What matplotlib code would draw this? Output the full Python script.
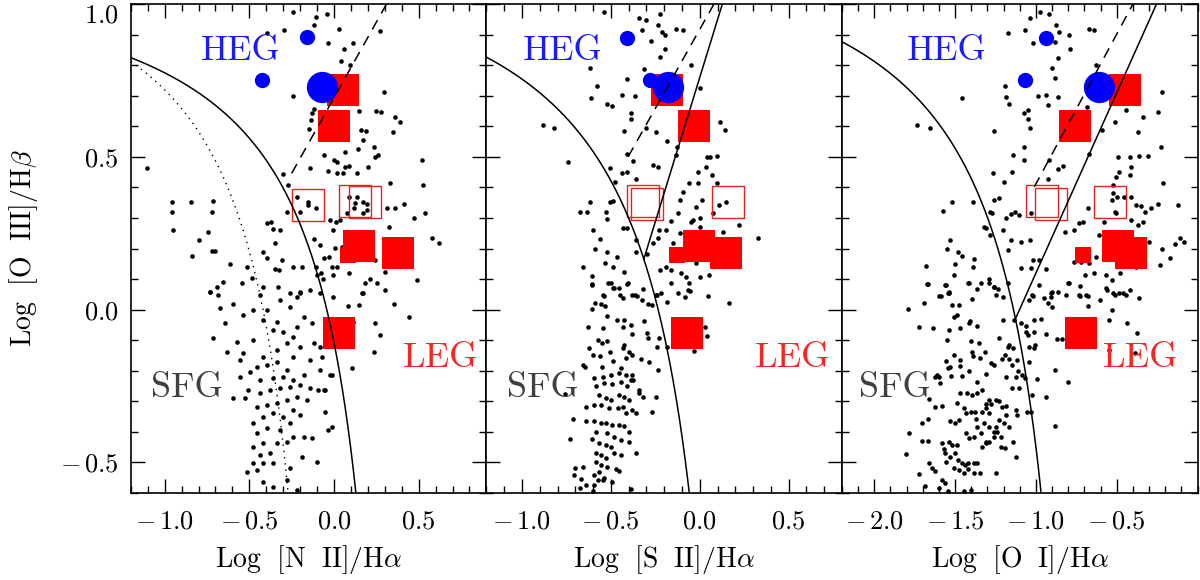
import numpy as np
import matplotlib
matplotlib.use("Agg")
import matplotlib.pyplot as plt
from matplotlib.ticker import MultipleLocator, FuncFormatter

plt.rcParams['font.family'] = 'serif'
plt.rcParams['font.serif'] = ['cmr10', 'DejaVu Serif']
plt.rcParams['mathtext.fontset'] = 'cm'
plt.rcParams['axes.formatter.use_mathtext'] = True

# SDSS comparison galaxies
sdss_nii = [
    (-0.245, 0.975), (-0.106, 0.959), (-0.042, 0.967), (0.273, 0.913), (0.111, 0.871),
    (-0.121, 0.931), (0.031, 0.92), (-0.397, 0.904), (-0.295, 0.915), (-0.033, 0.873),
    (0.062, 0.852), (0.04, 0.815), (0.092, 0.80), (-0.24, 0.70), (0.293, 0.713),
    (-0.121, 0.655), (-0.131, 0.642), (-0.137, 0.62), (-0.145, 0.59), (0.145, 0.651),
    (0.247, 0.65), (0.279, 0.648), (0.362, 0.629), (0.391, 0.615), (0.348, 0.582),
    (0.159, 0.588), (0.188, 0.586), (0.174, 0.555), (0.141, 0.525), (0.238, 0.533),
    (0.244, 0.50), (0.259, 0.506), (0.20, 0.468), (0.066, 0.517), (0.0, 0.49),
    (0.017, 0.484), (-0.062, 0.506), (0.066, 0.468), (0.09, 0.47), (0.056, 0.446),
    (0.135, 0.446), (0.017, 0.446), (-0.033, 0.455), (-0.141, 0.462), (-0.299, 0.444),
    (-1.107, 0.462), (0.52, 0.49), (0.525, 0.408), (0.328, 0.413), (0.415, 0.346),
    (0.539, 0.317), (0.47, 0.299), (0.579, 0.233), (0.618, 0.217), (0.49, 0.097),
    (0.303, 0.064), (0.165, 0.053), (0.214, 0.099),
    (-0.954, 0.353), (-0.845, 0.353), (-0.713, 0.357), (-0.955, 0.32), (-0.723, 0.32),
    (-0.95, 0.26), (-0.796, 0.228), (-0.743, 0.255), (-0.721, 0.193), (-0.703, 0.193),
    (-0.841, 0.176), (-0.614, 0.148), (-0.516, 0.141), (-0.397, 0.282), (-0.374, 0.288),
    (-0.358, 0.263), (-0.318, 0.261), (-0.279, 0.318), (-0.348, 0.217), (-0.417, 0.19),
    (-0.397, 0.168), (-0.309, 0.163), (-0.322, 0.13), (-0.348, 0.132), (-0.24, 0.141),
    (-0.19, 0.141), (-0.106, 0.141), (-0.058, 0.168), (-0.027, 0.171), (-0.013, 0.141),
    (0.017, 0.141), (-0.003, 0.261), (0.003, 0.201), (0.046, 0.206), (-0.121, 0.232),
    (-0.082, 0.212), (-0.023, 0.293), (0.013, 0.288), (0.037, 0.293), (0.076, 0.315),
    (0.121, 0.332), (0.174, 0.315), (0.194, 0.326), (-0.102, 0.113), (-0.078, 0.119),
    (-0.066, 0.099), (-0.003, 0.113), (0.086, 0.119), (0.184, 0.086), (0.253, 0.086),
    (0.303, 0.124), (-0.693, 0.075), (-0.654, 0.092), (-0.545, 0.086), (-0.486, 0.103),
    (-0.417, 0.075), (-0.328, 0.075), (-0.259, 0.053), (-0.2, 0.059), (-0.141, 0.064),
    (-0.082, 0.053), (-0.003, 0.043), (-0.733, 0.059), (-0.683, 0.048), (-0.437, 0.048),
    (-0.22, 0.043), (0.362, 0.332), (0.312, 0.332), (0.322, 0.272), (0.352, 0.228),
    (0.244, 0.163), (0.086, 0.37), (0.135, 0.37), (0.174, 0.353), (0.194, 0.346),
    (0.125, 0.348), (-0.151, 0.353), (-0.151, 0.342), (-0.22, 0.37), (-0.269, 0.408),
    (-0.2, 0.32), (-0.106, 0.332),
    (-0.733, 0.059), (-0.674, 0.004), (-0.595, 0.02), (-0.713, -0.094), (-0.644, -0.045),
    (-0.634, -0.138), (-0.575, -0.105), (-0.536, -0.018), (-0.477, -0.001), (-0.417, -0.034),
    (-0.477, -0.1), (-0.536, -0.143), (-0.556, -0.165), (-0.496, -0.203), (-0.556, -0.222),
    (-0.506, -0.263), (-0.526, -0.29), (-0.595, -0.29), (-0.457, -0.187), (-0.397, -0.181),
    (-0.338, -0.17), (-0.279, -0.198), (-0.24, -0.154), (-0.20, -0.121), (-0.24, -0.089),
    (-0.299, -0.072), (-0.358, -0.067), (-0.397, -0.001), (-0.318, 0.031), (-0.259, 0.010),
    (-0.2, 0.053), (-0.18, -0.023), (-0.131, -0.045), (-0.121, -0.11), (-0.082, -0.121),
    (-0.072, -0.154), (-0.141, -0.165), (-0.082, -0.198), (-0.023, -0.214), (-0.092, -0.263),
    (-0.052, -0.263), (-0.052, -0.334), (-0.013, -0.383), (-0.102, -0.497), (-0.131, -0.421),
    (-0.19, -0.481), (-0.259, -0.519), (-0.22, -0.59), (-0.279, -0.557), (-0.358, -0.579),
    (-0.417, -0.563), (-0.457, -0.525), (-0.516, -0.53), (-0.477, -0.503), (-0.417, -0.503),
    (-0.358, -0.503), (-0.378, -0.47), (-0.437, -0.476), (-0.477, -0.448), (-0.417, -0.437),
    (-0.338, -0.437), (-0.279, -0.432), (-0.24, -0.416), (-0.18, -0.416), (-0.457, -0.405),
    (-0.397, -0.388), (-0.318, -0.394), (-0.259, -0.372), (-0.477, -0.372), (-0.417, -0.35),
    (-0.358, -0.339), (-0.299, -0.35), (-0.24, -0.328), (-0.2, -0.345), (-0.457, -0.318),
    (-0.397, -0.312), (-0.338, -0.307), (-0.279, -0.296), (-0.22, -0.285), (-0.161, -0.296),
    (-0.437, -0.274), (-0.378, -0.263), (-0.318, -0.258), (-0.259, -0.252), (-0.2, -0.247),
    (-0.141, -0.258), (-0.437, -0.23), (-0.358, -0.225), (-0.299, -0.219), (-0.24, -0.23),
    (-0.18, -0.214), (-0.417, -0.154), (-0.338, -0.132), (-0.279, -0.11), (-0.22, -0.056),
    (-0.338, -0.04), (0.352, 0.02), (0.441, -0.023), (0.244, -0.045), (0.273, -0.083),
    (0.234, -0.138), (0.115, -0.04), (0.082, 0.012), (0.145, 0.015), (0.106, -0.192),
    (0.174, 0.053), (-0.033, -0.394), (-0.062, -0.263), (-0.013, -0.214),
]

sdss_sii = [
    (-0.539, 0.975), (-0.341, 0.956), (-0.30, 0.948), (-0.225, 0.967), (-0.234, 0.931),
    (-0.21, 0.909), (-0.194, 0.899), (-0.136, 0.918), (-0.095, 0.915), (-0.324, 0.915),
    (-0.272, 0.88), (-0.197, 0.852), (-0.225, 0.826), (-0.313, 0.786), (-0.617, 0.79),
    (-0.58, 0.732), (-0.614, 0.691), (-0.408, 0.754), (-0.44, 0.702), (-0.366, 0.699),
    (-0.524, 0.673), (-0.496, 0.666), (-0.384, 0.642), (-0.388, 0.623), (-0.427, 0.586),
    (-0.30, 0.593), (-0.248, 0.582), (-0.183, 0.553), (-0.129, 0.533), (-0.131, 0.506),
    (-0.048, 0.80), (-0.001, 0.726), (0.114, 0.615), (0.144, 0.588), (-0.879, 0.604),
    (-0.819, 0.593), (-0.739, 0.484), (-0.412, 0.508), (-0.378, 0.487), (-0.408, 0.451),
    (-0.44, 0.448), (-0.505, 0.462), (-0.356, 0.426), (-0.263, 0.473), (-0.235, 0.468),
    (-0.474, 0.419), (-0.505, 0.353), (-0.487, 0.356), (-0.617, 0.353), (-0.673, 0.318),
    (-0.636, 0.32), (-0.528, 0.32), (-0.52, 0.296), (-0.599, 0.261), (-0.561, 0.23),
    (-0.589, 0.197), (-0.522, 0.19), (-0.468, 0.173), (-0.487, 0.14), (-0.534, 0.152),
    (-0.659, 0.14), (-0.604, 0.11), (-0.604, 0.081), (-0.515, 0.088), (-0.487, 0.07),
    (-0.449, 0.048), (-0.539, 0.045), (-0.412, 0.083), (-0.427, 0.124), (-0.356, 0.228),
    (-0.431, 0.266), (-0.412, 0.266), (-0.356, 0.19), (-0.296, 0.182), (-0.263, 0.217),
    (-0.231, 0.261), (-0.188, 0.261), (-0.237, 0.233), (-0.151, 0.219), (-0.113, 0.25),
    (-0.048, 0.288), (-0.122, 0.315), (-0.113, 0.359), (-0.095, 0.384), (-0.058, 0.413),
    (-0.011, 0.451), (0.04, 0.501), (0.058, 0.501), (0.096, 0.503), (0.036, 0.468),
    (0.07, 0.44), (-0.011, 0.413), (0.013, 0.359), (-0.02, 0.337), (-0.039, 0.293),
    (-0.001, 0.299), (-0.001, 0.272), (0.073, 0.315), (0.096, 0.413), (0.148, 0.353),
    (0.111, 0.342), (0.129, 0.255), (0.223, 0.277), (0.325, 0.233), (-0.16, 0.291),
    (-0.192, 0.14), (-0.225, 0.13), (-0.16, 0.13), (-0.104, 0.119), (-0.076, 0.108),
    (-0.02, 0.152), (0.002, 0.108), (0.051, 0.113), (-0.065, 0.064), (-0.123, 0.053),
    (-0.216, 0.053), (-0.244, 0.048), (-0.366, 0.048), (-0.319, 0.067),
    (-0.606, 0.084), (-0.50, 0.086), (-0.481, 0.07), (-0.453, 0.07), (-0.401, 0.086),
    (-0.379, 0.048), (-0.351, 0.045), (-0.434, 0.037), (-0.323, 0.032), (-0.547, 0.048),
    (-0.588, 0.021), (-0.556, 0.018), (-0.532, 0.012), (-0.606, 0.001), (-0.289, 0.018),
    (-0.266, 0.015), (-0.238, 0.048), (-0.182, 0.026), (-0.084, 0.042), (-0.057, 0.062),
    (0.047, 0.045), (0.163, 0.023), (-0.164, 0.086), (-0.061, 0.086), (-0.519, -0.021),
    (-0.466, -0.034), (-0.425, -0.034), (-0.388, -0.05), (-0.431, -0.056), (-0.547, -0.061),
    (-0.631, -0.056), (-0.313, -0.036), (-0.294, -0.077), (-0.289, -0.094), (-0.238, -0.121),
    (-0.229, -0.094), (-0.182, -0.121), (-0.03, -0.135), (0.029, -0.058), (0.042, -0.085),
    (-0.379, -0.081), (-0.575, -0.099), (-0.621, -0.127), (-0.55, -0.11), (-0.522, -0.101),
    (-0.505, -0.137), (-0.425, -0.116), (-0.431, -0.127), (-0.397, -0.137), (-0.416, -0.159),
    (-0.379, -0.148), (-0.332, -0.163), (-0.285, -0.17), (-0.487, -0.168), (-0.56, -0.152),
    (-0.603, -0.148), (-0.659, -0.181), (-0.644, -0.189), (-0.55, -0.189), (-0.5, -0.214),
    (-0.453, -0.208), (-0.444, -0.192), (-0.416, -0.214), (-0.388, -0.23), (-0.379, -0.214),
    (-0.233, -0.197), (-0.593, -0.225), (-0.547, -0.219), (-0.584, -0.25), (-0.537, -0.241),
    (-0.491, -0.243), (-0.444, -0.236), (-0.407, -0.25), (-0.373, -0.23), (-0.341, -0.263),
    (-0.341, -0.274), (-0.319, -0.285), (-0.248, -0.285), (-0.756, -0.276), (-0.565, -0.279),
    (-0.528, -0.29), (-0.50, -0.296), (-0.453, -0.279), (-0.425, -0.285), (-0.397, -0.296),
    (-0.64, -0.317), (-0.593, -0.312), (-0.556, -0.312), (-0.509, -0.323), (-0.462, -0.323),
    (-0.434, -0.317), (-0.416, -0.339), (-0.379, -0.328), (-0.36, -0.339), (-0.27, -0.334),
    (-0.711, -0.359), (-0.64, -0.363), (-0.593, -0.366), (-0.556, -0.372), (-0.528, -0.372),
    (-0.491, -0.377), (-0.453, -0.377), (-0.425, -0.38), (-0.397, -0.399), (-0.584, -0.399),
    (-0.519, -0.405), (-0.481, -0.416), (-0.444, -0.426), (-0.397, -0.432), (-0.606, -0.424),
    (-0.565, -0.437), (-0.528, -0.443), (-0.50, -0.448), (-0.73, -0.424), (-0.36, -0.47),
    (-0.444, -0.475), (-0.481, -0.47), (-0.584, -0.468), (-0.556, -0.475), (-0.528, -0.486),
    (-0.584, -0.497), (-0.556, -0.508), (-0.519, -0.514), (-0.472, -0.522), (-0.457, -0.527),
    (-0.565, -0.53), (-0.593, -0.541), (-0.537, -0.552), (-0.491, -0.563), (-0.659, -0.514),
    (-0.70, -0.517), (-0.705, -0.541), (-0.668, -0.555), (-0.64, -0.574), (-0.593, -0.574),
    (-0.673, -0.585), (-0.603, -0.592), (-0.388, -0.587), (-0.547, -0.557), (-0.575, -0.557),
]

sdss_oi = [
    (-1.035, 0.956), (-0.975, 0.975), (-0.917, 0.967), (-1.068, 0.915), (-1.175, 0.904),
    (-0.876, 0.931), (-0.859, 0.909), (-1.016, 0.873), (-0.88, 0.877), (-0.793, 0.899),
    (-0.789, 0.852), (-0.673, 0.92), (-0.644, 0.915), (-0.861, 0.824), (-0.628, 0.80),
    (-0.90, 0.79), (-0.88, 0.757), (-1.192, 0.732), (-1.186, 0.697), (-0.989, 0.70),
    (-0.938, 0.704), (-0.865, 0.695), (-1.165, 0.672), (-1.047, 0.653), (-1.076, 0.642),
    (-1.051, 0.623), (-1.035, 0.593), (-0.927, 0.67), (-0.684, 0.662), (-1.458, 0.691),
    (-1.733, 0.604), (-1.655, 0.593), (-1.262, 0.586), (-1.072, 0.533), (-1.144, 0.506),
    (-1.072, 0.49), (-1.15, 0.451), (-1.268, 0.446), (-1.20, 0.419), (-0.927, 0.426),
    (-0.863, 0.459), (-0.83, 0.471), (-0.921, 0.49), (-0.669, 0.508), (-0.59, 0.588),
    (-0.508, 0.615), (-0.442, 0.653), (-0.339, 0.631), (-0.245, 0.648), (-0.369, 0.582),
    (-0.225, 0.533), (-0.219, 0.713), (-0.493, 0.50), (-0.417, 0.50), (-0.364, 0.503),
    (-0.308, 0.503), (-0.411, 0.468), (-0.487, 0.451), (-0.504, 0.435), (-0.417, 0.44),
    (-0.215, 0.415), (-0.524, 0.408), (-0.524, 0.381), (-0.499, 0.37), (-0.456, 0.37),
    (-0.411, 0.37), (-0.38, 0.342), (-0.349, 0.34), (-0.328, 0.321), (-0.287, 0.332),
    (-0.245, 0.346), (-0.122, 0.342), (-0.411, 0.293), (-0.369, 0.277), (-0.339, 0.288),
    (-0.514, 0.321), (-0.504, 0.315), (-0.528, 0.359), (-0.582, 0.288), (-0.611, 0.244),
    (-0.679, 0.332), (-0.71, 0.288), (-0.735, 0.285), (-0.762, 0.261), (-0.82, 0.253),
    (-0.721, 0.157), (-0.766, 0.157), (-0.669, 0.152), (-0.628, 0.173), (-0.694, 0.113),
    (-0.638, 0.119), (-0.566, 0.113), (-0.528, 0.097), (-0.483, 0.119), (-0.38, 0.141),
    (-0.339, 0.195), (-0.298, 0.222), (-0.219, 0.197), (-0.169, 0.17), (-0.142, 0.215),
    (-0.111, 0.233), (-0.086, 0.222), (-0.235, 0.146), (-0.421, 0.064), (-0.462, 0.053),
    (-0.514, 0.048), (-0.566, 0.07), (-0.69, 0.048), (-0.731, 0.048), (-0.803, 0.086),
    (-0.938, 0.132), (-0.983, 0.163), (-1.016, 0.163), (-1.035, 0.228), (-1.093, 0.222),
    (-1.155, 0.228), (-1.206, 0.261), (-1.155, 0.313), (-1.128, 0.32), (-1.103, 0.31),
    (-1.031, 0.315), (-1.186, 0.299), (-1.274, 0.315), (-1.26, 0.359), (-1.23, 0.364),
    (-1.283, 0.32), (-1.388, 0.353), (-1.52, 0.353), (-1.578, 0.324), (-1.31, 0.266),
    (-1.32, 0.272), (-1.283, 0.243), (-1.533, 0.228), (-1.553, 0.197), (-1.485, 0.19),
    (-1.458, 0.176), (-1.382, 0.165), (-1.388, 0.141), (-1.50, 0.149), (-1.681, 0.143),
    (-1.506, 0.112), (-1.557, 0.081), (-1.537, 0.056), (-1.417, 0.088), (-1.34, 0.088),
    (-1.289, 0.099), (-1.262, 0.073), (-1.237, 0.067), (-1.175, 0.086), (-1.206, 0.043),
    (-1.671, 0.083), (-1.588, 0.045), (-1.027, 0.047), (-0.907, 0.043), (-0.863, 0.059),
    (-0.814, 0.048), (-1.093, 0.135), (-1.031, 0.135), (-1.175, 0.195), (-0.979, 0.081),
    (-1.677, 0.084), (-1.56, 0.081), (-1.535, 0.059), (-1.543, 0.056), (-1.597, 0.045),
    (-1.419, 0.088), (-1.363, 0.066), (-1.291, 0.088), (-1.26, 0.075), (-1.25, 0.048),
    (-1.394, 0.034), (-1.518, 0.015), (-1.477, 0.015), (-1.694, 0.021), (-1.791, 0.001),
    (-1.487, -0.018), (-1.508, -0.025), (-1.411, -0.036), (-1.415, -0.045), (-1.363, -0.053),
    (-1.535, -0.067), (-1.471, -0.059), (-1.721, -0.056), (-1.638, -0.059), (-1.549, -0.099),
    (-1.405, -0.101), (-1.353, -0.108), (-1.229, -0.094), (-1.167, -0.116), (-1.171, -0.121),
    (-1.318, -0.137), (-1.398, -0.137), (-1.508, -0.148), (-1.388, -0.152), (-1.349, -0.159),
    (-1.467, -0.165), (-1.555, -0.167), (-1.467, -0.184), (-1.529, -0.189), (-1.543, -0.192),
    (-1.415, -0.20), (-1.615, -0.214), (-1.60, -0.221), (-1.527, -0.217), (-1.46, -0.217),
    (-1.363, -0.236), (-1.308, -0.212), (-1.281, -0.173), (-1.26, -0.181), (-1.208, -0.163),
    (-1.192, -0.148), (-1.167, -0.163), (-1.142, -0.127), (-1.12, -0.165), (-1.146, -0.181),
    (-1.111, -0.20), (-1.084, -0.214), (-1.068, -0.225), (-1.043, -0.17), (-1.126, -0.219),
    (-1.188, -0.221), (-1.146, -0.257), (-1.105, -0.257), (-1.012, -0.072), (-1.064, -0.072),
    (-1.051, -0.083), (-1.006, -0.116), (-1.012, -0.127), (-1.043, -0.121), (-1.064, -0.053),
    (-1.095, -0.043), (-1.136, -0.034), (-1.202, -0.034), (-1.043, 0.032), (-1.018, 0.045),
    (-0.95, 0.037), (-0.909, 0.056), (-0.898, 0.059), (-0.923, 0.023), (-0.903, 0.01),
    (-1.012, -0.034), (-0.971, -0.032), (-0.936, -0.08), (-0.884, -0.197), (-0.94, -0.285),
    (-1.022, -0.279), (-0.991, -0.228), (-0.867, -0.097), (-0.84, -0.097), (-0.795, 0.086),
    (-0.729, 0.077), (-0.681, 0.045), (-0.729, 0.045), (-0.677, 0.012), (-0.605, 0.032),
    (-0.562, 0.064), (-0.522, 0.053), (-0.485, 0.053), (-0.444, 0.048), (-0.361, 0.037),
    (-0.527, -0.001), (-0.551, -0.034), (-0.434, -0.045), (-0.378, -0.075), (-0.39, -0.143),
    (-0.547, -0.132), (-0.799, -0.236), (-0.882, -0.381),
    (-1.626, -0.219), (-1.595, -0.241), (-1.659, -0.293), (-1.626, -0.32), (-1.58, -0.315),
    (-1.667, -0.359), (-1.704, -0.372), (-1.787, -0.405), (-1.708, -0.429), (-1.667, -0.429),
    (-1.801, -0.473), (-1.725, -0.539), (-1.684, -0.577), (-1.659, -0.503), (-1.642, -0.519),
    (-1.626, -0.527), (-1.58, -0.557), (-1.56, -0.566), (-1.58, -0.437), (-1.57, -0.457),
    (-1.564, -0.47), (-1.535, -0.432), (-1.518, -0.443), (-1.487, -0.443), (-1.555, -0.497),
    (-1.529, -0.481), (-1.498, -0.47), (-1.481, -0.492), (-1.457, -0.501), (-1.436, -0.508),
    (-1.508, -0.519), (-1.477, -0.525), (-1.446, -0.533), (-1.419, -0.501), (-1.384, -0.503),
    (-1.363, -0.501), (-1.349, -0.536), (-1.384, -0.536), (-1.419, -0.522), (-1.601, -0.585),
    (-1.543, -0.592), (-1.446, -0.592), (-1.405, -0.59), (-1.25, -0.535), (-1.529, -0.366),
    (-1.502, -0.372), (-1.477, -0.361), (-1.432, -0.337), (-1.405, -0.334), (-1.378, -0.334),
    (-1.374, -0.359), (-1.432, -0.405), (-1.415, -0.421), (-1.384, -0.416), (-1.343, -0.405),
    (-1.312, -0.437), (-1.333, -0.448), (-1.291, -0.432), (-1.308, -0.432), (-1.26, -0.416),
    (-1.219, -0.448), (-1.192, -0.454), (-1.142, -0.432), (-1.122, -0.483), (-1.219, -0.416),
    (-1.363, -0.383), (-1.322, -0.372), (-1.291, -0.383), (-1.26, -0.399), (-1.246, -0.383),
    (-1.239, -0.399), (-1.291, -0.339), (-1.312, -0.323), (-1.336, -0.334), (-1.291, -0.296),
    (-1.281, -0.309), (-1.25, -0.296), (-1.229, -0.298), (-1.208, -0.317), (-1.188, -0.315),
    (-1.184, -0.345), (-1.167, -0.383), (-1.229, -0.361), (-1.198, -0.372), (-1.308, -0.309),
    (-1.487, -0.306), (-1.446, -0.323), (-1.467, -0.274), (-1.425, -0.274), (-1.398, -0.279),
    (-1.363, -0.274), (-1.336, -0.263), (-1.115, -0.345), (-1.053, -0.334), (-1.033, -0.334),
    (-1.126, -0.328),
]

# radio galaxies: LEG (big / small filled squares, open squares) and HEG (circles)
leg_big = {
    'nii': [(0.054, 0.72), (0.001, 0.60), (0.146, 0.208), (0.38, 0.184), (0.03, -0.075)],
    'sii': [(-0.186, 0.72), (-0.03, 0.60), (-0.006, 0.208), (0.146, 0.185), (-0.07, -0.075)],
    'oi': [(-0.45, 0.72), (-0.76, 0.60), (-0.49, 0.208), (-0.41, 0.185), (-0.72, -0.075)],
}
leg_small = {'nii': [(0.084, 0.18)], 'sii': [(-0.13, 0.18)], 'oi': [(-0.71, 0.18)]}
leg_open = {
    'nii': [(-0.153, 0.344), (0.125, 0.357), (0.185, 0.352)],
    'sii': [(-0.32, 0.355), (-0.297, 0.346), (0.16, 0.353)],
    'oi': [(-0.96, 0.355), (-0.91, 0.345), (-0.54, 0.352)],
}
heg_small = {
    'nii': [(-0.159, 0.892), (-0.425, 0.75)],
    'sii': [(-0.41, 0.89), (-0.28, 0.75)],
    'oi': [(-0.94, 0.89), (-1.065, 0.75)],
}
heg_big = {'nii': [(-0.07, 0.73)], 'sii': [(-0.18, 0.73)], 'oi': [(-0.61, 0.73)]}

keys = ['nii', 'sii', 'oi']
xlabels = [r'$\mathrm{Log\ \ [N\ \ II]/H}\alpha$',
           r'$\mathrm{Log\ \ [S\ \ II]/H}\alpha$',
           r'$\mathrm{Log\ \ [O\ \ I]/H}\alpha$']
ylabel = r'$\mathrm{Log\ \ [O\ \ III]/H}\beta$'
xlims = [(-1.2, 0.9), (-1.2, 0.8), (-2.2, 0.0)]
xticks = [[-1.0, -0.5, 0.0, 0.5], [-1.0, -0.5, 0.0, 0.5], [-2.0, -1.5, -1.0, -0.5]]
samples = [sdss_nii, sdss_sii, sdss_oi]

# Kewley et al. 2001 maximum starburst lines: a/(x-b)+c
kewley = [(0.61, 0.47, 1.19), (0.72, 0.32, 1.30), (0.73, -0.59, 1.33)]
# Seyfert/LINER separation (Kewley 2006): slope, intercept, start x
seyliner = [None, (1.89, 0.76, -0.315), (1.18, 1.30, -1.127)]
# dashed dividing lines (endpoints)
dashed = [[(-0.25, 0.446), (0.31, 1.0)], [(-0.403, 0.50), (0.08, 1.0)], [(-1.01, 0.402), (-0.40, 1.0)]]
heg_pos = [(-0.55, 0.846), (-0.77, 0.846), (-1.55, 0.846)]
leg_pos = [(0.63, -0.16), (0.52, -0.16), (-0.35, -0.16)]
sfg_pos = [(-0.87, -0.257), (-0.88, -0.257), (-1.87, -0.257)]


def tick_fmt(v, pos):
    s = '%.1f' % v
    if s.startswith('-'):
        s = r'-\,' + s[1:]
    return '$' + s + '$'


fig, axes = plt.subplots(1, 3, figsize=(12, 5.8), dpi=100, sharey=True)
fig.subplots_adjust(left=0.109, right=0.998, bottom=0.15, top=0.993, wspace=0)

ymin, ymax = -0.6, 1.0
for i, ax in enumerate(axes):
    k = keys[i]
    pts = np.array(samples[i])
    ax.plot(pts[:, 0], pts[:, 1], 'o', color='k', ms=3.3, mew=0, zorder=2)

    for x, y in leg_open[k]:
        ax.plot(x, y, 's', ms=22.5, mfc='none', mec='#e82020', mew=1.0, zorder=3)
    for x, y in leg_big[k]:
        ax.plot(x, y, 's', ms=22.5, color='#ff0000', mew=0, zorder=4)
    for x, y in leg_small[k]:
        ax.plot(x, y, 's', ms=11.5, color='#ff0000', mew=0, zorder=4)
    for x, y in heg_small[k]:
        ax.plot(x, y, 'o', ms=11, color='#0000ff', mew=0, zorder=5)
    for x, y in heg_big[k]:
        ax.plot(x, y, 'o', ms=22.5, color='#0000ff', mew=0, zorder=5)

    a, b, c = kewley[i]
    xend = b + a / (ymin - c)
    xx = np.linspace(xlims[i][0], xend, 400)
    ax.plot(xx, a / (xx - b) + c, color='k', lw=1.1, zorder=6)

    if i == 0:
        xend2 = 0.05 + 0.61 / (ymin - 1.3)
        xx = np.linspace(-1.2, xend2, 400)
        ax.plot(xx, 0.61 / (xx - 0.05) + 1.3, color='k', lw=1.0, ls=(0, (1, 3.5)), zorder=6)
    else:
        m, q, x0 = seyliner[i]
        xx = np.array([x0, (ymax - q) / m])
        ax.plot(xx, m * xx + q, color='k', lw=1.1, zorder=6)

    (x1, y1), (x2, y2) = dashed[i]
    ax.plot([x1, x2], [y1, y2], color='k', lw=1.1, ls=(0, (7, 5)), zorder=6)

    ax.text(*heg_pos[i], 'HEG', color='#1a1aff', fontsize=26, ha='center', va='center')
    ax.text(*leg_pos[i], 'LEG', color='#ff2020', fontsize=26, ha='center', va='center')
    ax.text(*sfg_pos[i], 'SFG', color='#404040', fontsize=26, ha='center', va='center')

    ax.set_xlim(*xlims[i])
    ax.set_ylim(ymin, ymax)
    ax.set_xticks(xticks[i])
    ax.set_yticks([-0.5, 0.0, 0.5, 1.0])
    ax.xaxis.set_minor_locator(MultipleLocator(0.1))
    ax.yaxis.set_minor_locator(MultipleLocator(0.1))
    ax.xaxis.set_major_formatter(FuncFormatter(tick_fmt))
    ax.yaxis.set_major_formatter(FuncFormatter(tick_fmt))
    ax.tick_params(which='both', direction='in', top=True, right=True, width=1.0,
                   labelsize=19)
    ax.tick_params(axis='x', pad=12)
    ax.tick_params(axis='y', pad=9)
    ax.tick_params(which='major', length=10)
    ax.tick_params(which='minor', length=5)
    for s in ax.spines.values():
        s.set_linewidth(1.2)
    ax.set_xlabel(xlabels[i], fontsize=20, labelpad=7)

axes[0].set_ylabel(ylabel, fontsize=20, labelpad=14)
for ax in axes[1:]:
    ax.tick_params(labelleft=False)

fig.canvas.draw()
for lab in axes[0].get_yticklabels():
    if lab.get_position()[1] > 0.9:
        lab.set_verticalalignment('top')

fig.savefig('out.png', dpi=100)
